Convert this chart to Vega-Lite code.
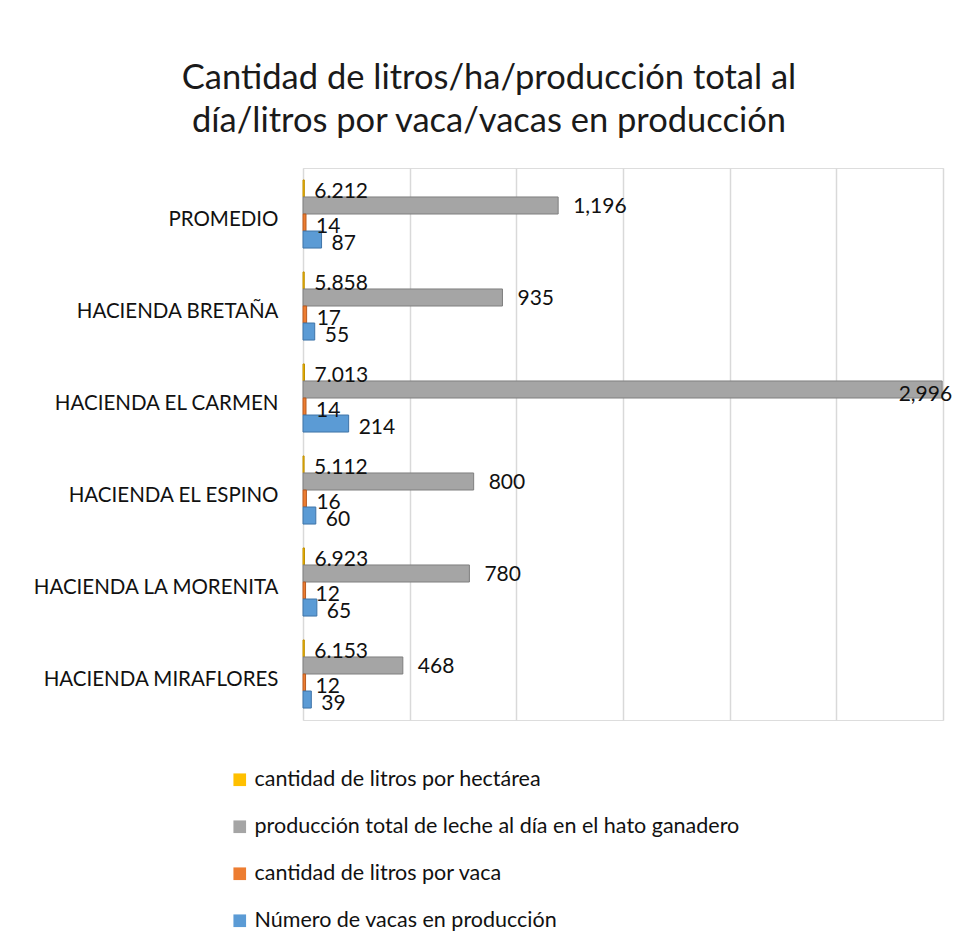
{
  "$schema": "https://vega.github.io/schema/vega-lite/v6.json",
  "width": 640,
  "height": 552,
  "autosize": {"type": "none"},
  "padding": {"left": 303, "top": 168, "right": 13, "bottom": 223},
  "background": "white",
  "title": {
    "text": ["Cantidad de litros/ha/producción total al", "día/litros por vaca/vacas en producción"],
    "anchor": "middle",
    "dx": -134,
    "offset": 29,
    "fontSize": 34.5,
    "font": "Lato",
    "fontWeight": "normal",
    "color": "#1a1a1a",
    "lineHeight": 43
  },
  "data": {
    "values": [
      {"hacienda": "PROMEDIO", "serie": "cantidad de litros por hectárea", "valor": 6.212, "etiqueta": "6.212"},
      {"hacienda": "PROMEDIO", "serie": "producción total de leche al día en el hato ganadero", "valor": 1196, "etiqueta": "1,196"},
      {"hacienda": "PROMEDIO", "serie": "cantidad de litros por vaca", "valor": 14, "etiqueta": "14"},
      {"hacienda": "PROMEDIO", "serie": " Número de vacas en producción", "valor": 87, "etiqueta": "87"},
      {"hacienda": "HACIENDA BRETAÑA", "serie": "cantidad de litros por hectárea", "valor": 5.858, "etiqueta": "5.858"},
      {"hacienda": "HACIENDA BRETAÑA", "serie": "producción total de leche al día en el hato ganadero", "valor": 935, "etiqueta": "935"},
      {"hacienda": "HACIENDA BRETAÑA", "serie": "cantidad de litros por vaca", "valor": 17, "etiqueta": "17"},
      {"hacienda": "HACIENDA BRETAÑA", "serie": " Número de vacas en producción", "valor": 55, "etiqueta": "55"},
      {"hacienda": "HACIENDA EL CARMEN", "serie": "cantidad de litros por hectárea", "valor": 7.013, "etiqueta": "7.013"},
      {"hacienda": "HACIENDA EL CARMEN", "serie": "producción total de leche al día en el hato ganadero", "valor": 2996, "etiqueta": "2,996"},
      {"hacienda": "HACIENDA EL CARMEN", "serie": "cantidad de litros por vaca", "valor": 14, "etiqueta": "14"},
      {"hacienda": "HACIENDA EL CARMEN", "serie": " Número de vacas en producción", "valor": 214, "etiqueta": "214"},
      {"hacienda": "HACIENDA EL ESPINO", "serie": "cantidad de litros por hectárea", "valor": 5.112, "etiqueta": "5.112"},
      {"hacienda": "HACIENDA EL ESPINO", "serie": "producción total de leche al día en el hato ganadero", "valor": 800, "etiqueta": "800"},
      {"hacienda": "HACIENDA EL ESPINO", "serie": "cantidad de litros por vaca", "valor": 16, "etiqueta": "16"},
      {"hacienda": "HACIENDA EL ESPINO", "serie": " Número de vacas en producción", "valor": 60, "etiqueta": "60"},
      {"hacienda": "HACIENDA LA MORENITA", "serie": "cantidad de litros por hectárea", "valor": 6.923, "etiqueta": "6.923"},
      {"hacienda": "HACIENDA LA MORENITA", "serie": "producción total de leche al día en el hato ganadero", "valor": 780, "etiqueta": "780"},
      {"hacienda": "HACIENDA LA MORENITA", "serie": "cantidad de litros por vaca", "valor": 12, "etiqueta": "12"},
      {"hacienda": "HACIENDA LA MORENITA", "serie": " Número de vacas en producción", "valor": 65, "etiqueta": "65"},
      {"hacienda": "HACIENDA MIRAFLORES", "serie": "cantidad de litros por hectárea", "valor": 6.153, "etiqueta": "6.153"},
      {"hacienda": "HACIENDA MIRAFLORES", "serie": "producción total de leche al día en el hato ganadero", "valor": 468, "etiqueta": "468"},
      {"hacienda": "HACIENDA MIRAFLORES", "serie": "cantidad de litros por vaca", "valor": 12, "etiqueta": "12"},
      {"hacienda": "HACIENDA MIRAFLORES", "serie": " Número de vacas en producción", "valor": 39, "etiqueta": "39"}
    ]
  },
  "encoding": {
    "y": {
      "field": "hacienda",
      "type": "nominal",
      "sort": ["PROMEDIO", "HACIENDA BRETAÑA", "HACIENDA EL CARMEN", "HACIENDA EL ESPINO", "HACIENDA LA MORENITA", "HACIENDA MIRAFLORES"],
      "scale": {"paddingInner": 0.26, "paddingOuter": 0.13},
      "axis": {
        "title": null,
        "domain": false,
        "ticks": false,
        "labelPadding": 25,
        "labelFontSize": 20.5,
        "labelFont": "Lato",
        "labelColor": "#111111",
        "labelOffset": 6,
        "labelLimit": 400
      }
    },
    "yOffset": {
      "field": "serie",
      "type": "nominal",
      "sort": ["cantidad de litros por hectárea", "producción total de leche al día en el hato ganadero", "cantidad de litros por vaca", " Número de vacas en producción"]
    },
    "x": {
      "field": "valor",
      "type": "quantitative",
      "scale": {"domain": [0, 3000], "nice": false},
      "axis": {
        "title": null,
        "domain": false,
        "ticks": false,
        "labels": false,
        "values": [0, 500, 1000, 1500, 2000, 2500, 3000],
        "grid": true,
        "gridColor": "#d9d9d9",
        "gridWidth": 1.5
      }
    }
  },
  "layer": [
    {
      "mark": {"type": "bar", "strokeWidth": 1},
      "encoding": {
        "color": {
          "field": "serie",
          "type": "nominal",
          "sort": ["cantidad de litros por hectárea", "producción total de leche al día en el hato ganadero", "cantidad de litros por vaca", " Número de vacas en producción"],
          "scale": {
            "domain": ["cantidad de litros por hectárea", "producción total de leche al día en el hato ganadero", "cantidad de litros por vaca", " Número de vacas en producción"],
            "range": ["#FFC000", "#A5A5A5", "#ED7D31", "#5B9BD5"]
          },
          "legend": {
            "title": null,
            "orient": "none",
            "legendX": -74,
            "legendY": 601,
            "direction": "vertical",
            "symbolType": "square",
            "symbolSize": 160,
            "symbolStrokeWidth": 0,
            "labelFontSize": 21.5,
            "labelFont": "Lato",
            "labelColor": "#111111",
            "rowPadding": 24,
            "labelOffset": 4,
            "labelLimit": 600
          }
        },
        "stroke": {
          "field": "serie",
          "type": "nominal",
          "scale": {
            "domain": ["cantidad de litros por hectárea", "producción total de leche al día en el hato ganadero", "cantidad de litros por vaca", " Número de vacas en producción"],
            "range": ["#C09000", "#7f7f7f", "#B85A20", "#3F74A8"]
          },
          "legend": null
        }
      }
    },
    {
      "transform": [{"filter": "datum.valor >= 400 && datum.valor < 2500"}],
      "mark": {"type": "text", "align": "left", "baseline": "middle", "dx": 15, "dy": 2, "fontSize": 21, "font": "Lato", "color": "#111111"},
      "encoding": {"text": {"field": "etiqueta"}}
    },
    {
      "transform": [{"filter": "datum.valor >= 2500"}],
      "mark": {"type": "text", "align": "right", "baseline": "middle", "dx": 10, "dy": 6, "fontSize": 21, "font": "Lato", "color": "#111111"},
      "encoding": {"text": {"field": "etiqueta"}}
    },
    {
      "transform": [{"filter": "datum.valor < 400"}],
      "mark": {"type": "text", "align": "left", "baseline": "middle", "dx": 10, "dy": 4, "fontSize": 21, "font": "Lato", "color": "#111111"},
      "encoding": {"text": {"field": "etiqueta"}}
    }
  ]
}
